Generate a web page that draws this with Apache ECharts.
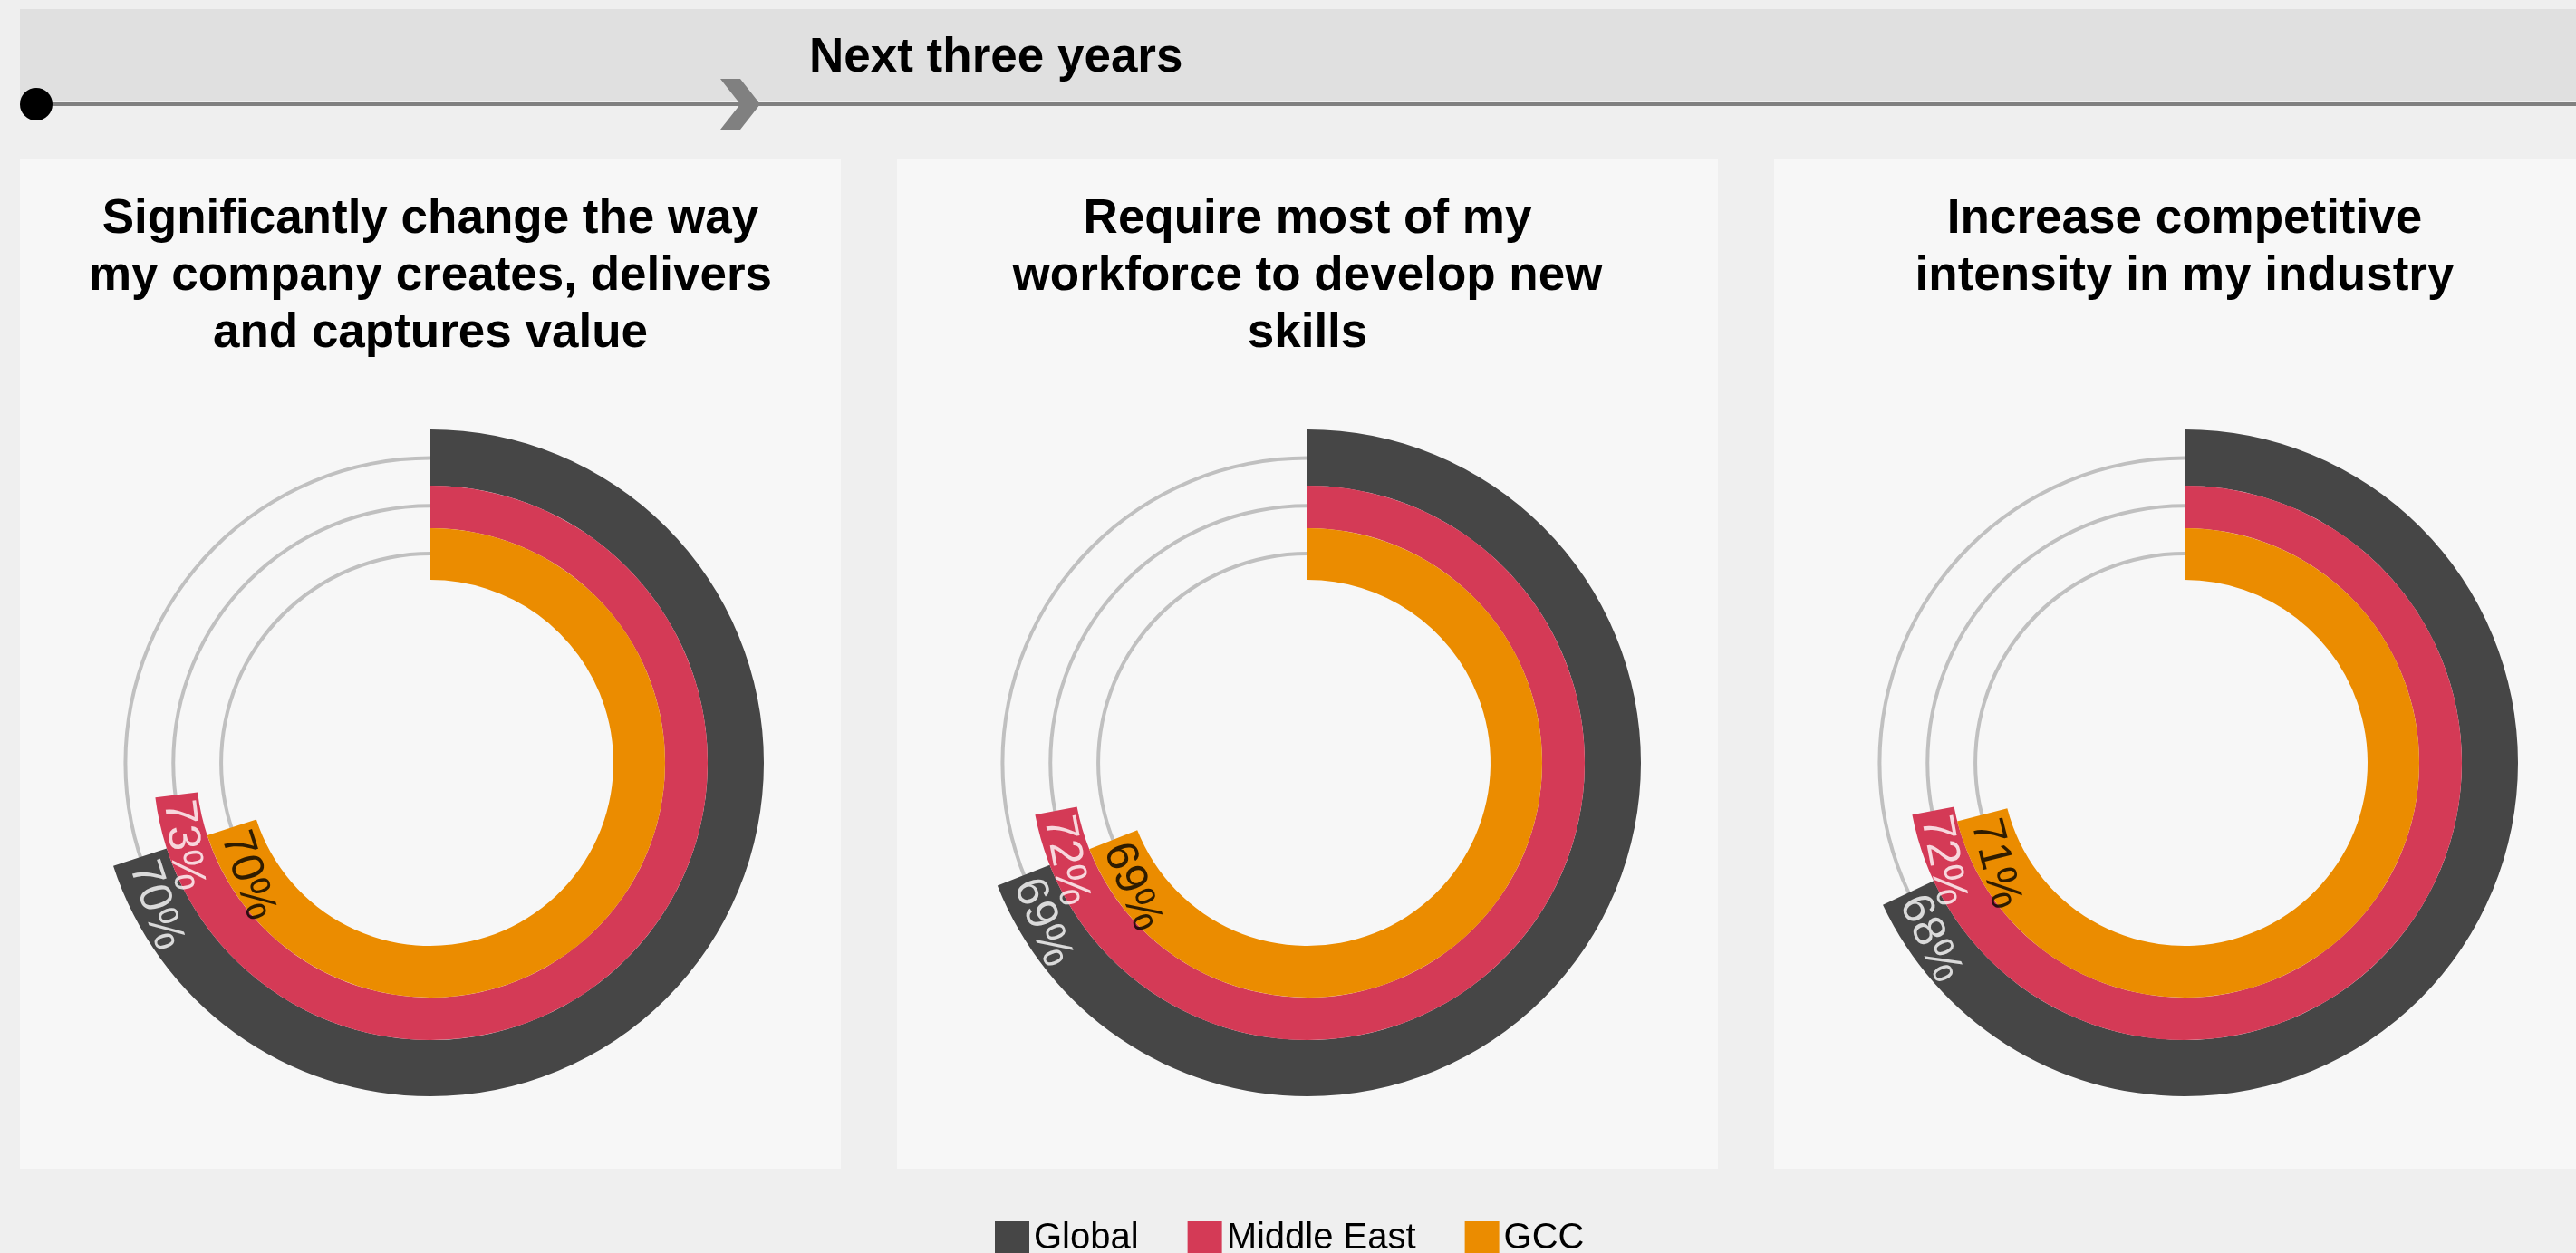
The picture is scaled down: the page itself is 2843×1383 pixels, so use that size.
<!DOCTYPE html>
<html>
<head>
<meta charset="UTF-8">
<title>Next three years</title>
<script src="https://cdn.jsdelivr.net/npm/echarts@6/dist/echarts.min.js"></script>
<style>
	html, body { margin: 0; padding: 0; background: #efefef; }
	#main { width: 2843px; height: 1383px; }
</style>
</head>
<body>
<div id="main"></div>
<script>
// data
var headerText = 'Next three years';
var regions = ['Global', 'Middle East', 'GCC'];
var panelTitles = [
	'Significantly change the way\nmy company creates, delivers\nand captures value',
	'Require most of my\nworkforce to develop new\nskills',
	'Increase competitive\nintensity in my industry'
];
var globalValues = [70, 69, 68];
var middleEastValues = [73, 72, 72];
var gccValues = [70, 69, 71];
var trackValues = [100, 100, 100];

// styling
var regionColors = ['#464646', '#d43a56', '#eb8c00'];
var labelColors = ['#ffffff', '#ffffff', '#000000'];
var FONT = '"Liberation Sans", Arial, sans-serif';
var panelCenters = [475, 1443, 2411];
var centerY = 842;
// ring radii, outer ring first (Global, Middle East, GCC)
var ringRadius = [[306, 368], [259, 306], [202, 259]];

var chart = echarts.init(document.getElementById('main'));
var valuesByRegion = [globalValues, middleEastValues, gccValues];

var polar = [], angleAxis = [], radiusAxis = [], series = [];
var titles = [{
	text: headerText,
	left: 893, top: 33, padding: 0,
	textStyle: { fontSize: 53, lineHeight: 63, fontWeight: 'bold', color: '#000', fontFamily: FONT }
}];
var graphics = [
	{ type: 'rect', shape: { x: 22, y: 10, width: 2830, height: 102 }, style: { fill: '#e0e0e0' } },
	{ type: 'line', shape: { x1: 40, y1: 115, x2: 2843, y2: 115 }, style: { stroke: '#808080', lineWidth: 4 } },
	{ type: 'circle', shape: { cx: 40, cy: 115, r: 18 }, style: { fill: '#000' } },
	{ type: 'polygon', shape: { points: [[795, 87], [817, 87], [839, 115], [817, 143], [795, 143], [817, 115]] }, style: { fill: '#808080' } }
];

var pi = 0;
for (var p = 0; p < panelCenters.length; p++) {
	var cx = panelCenters[p];
	graphics.push({ type: 'rect', shape: { x: cx - 453, y: 176, width: 906, height: 1114 }, style: { fill: '#f7f7f7' } });
	titles.push({
		text: panelTitles[p],
		left: cx, top: 211, textAlign: 'center', padding: 0,
		textStyle: { fontSize: 53, lineHeight: 63, fontWeight: 'bold', color: '#000', fontFamily: FONT }
	});

	// thin grey tracks
	polar.push({ center: [cx, centerY], radius: [204.5, 363] });
	angleAxis.push({ polarIndex: pi, type: 'value', min: 0, max: 100, startAngle: 90, clockwise: true, show: false });
	radiusAxis.push({ polarIndex: pi, type: 'category', data: regions.slice().reverse(), show: false });
	series.push({
		type: 'bar', coordinateSystem: 'polar', polarIndex: pi, name: 'track' + p,
		data: trackValues, barWidth: 4, silent: true, z: 1,
		itemStyle: { color: '#c0c0c0' }
	});
	pi++;

	// one polar per ring
	for (var k = 0; k < regions.length; k++) {
		var v = valuesByRegion[k][p];
		polar.push({ center: [cx, centerY], radius: ringRadius[k] });
		angleAxis.push({ polarIndex: pi, type: 'value', min: 0, max: 100, startAngle: 90, clockwise: true, show: false });
		radiusAxis.push({ polarIndex: pi, type: 'category', data: [regions[k]], show: false });
		series.push({
			type: 'bar', coordinateSystem: 'polar', polarIndex: pi, name: regions[k],
			data: [v], barCategoryGap: '0%', silent: true, z: 2,
			itemStyle: { color: regionColors[k] }
		});
		series.push({
			type: 'scatter', coordinateSystem: 'polar', polarIndex: pi, name: 'label' + p + k,
			data: [[regions[k], v]], symbolSize: 1, silent: true, z: 3,
			itemStyle: { color: 'rgba(0,0,0,0)' },
			label: {
				show: true, position: 'inside',
				rotate: 180 - v * 3.6,
				align: 'left', verticalAlign: 'middle',
				padding: [0, 0, 0, 6],
				formatter: function (d) { return d.value[1] + '%'; },
				color: labelColors[k], fontSize: 50, fontFamily: FONT
			}
		});
		pi++;
	}
}

chart.setOption({
	backgroundColor: '#efefef',
	animation: false,
	title: titles,
	graphic: graphics,
	legend: {
		data: regions, left: 1098, top: 1347, padding: 0,
		itemWidth: 38, itemHeight: 38, itemGap: 54, icon: 'rect',
		selectedMode: false,
		textStyle: { fontSize: 40, lineHeight: 38, color: '#000', fontFamily: FONT }
	},
	polar: polar,
	angleAxis: angleAxis,
	radiusAxis: radiusAxis,
	series: series
});
</script>
</body>
</html>
